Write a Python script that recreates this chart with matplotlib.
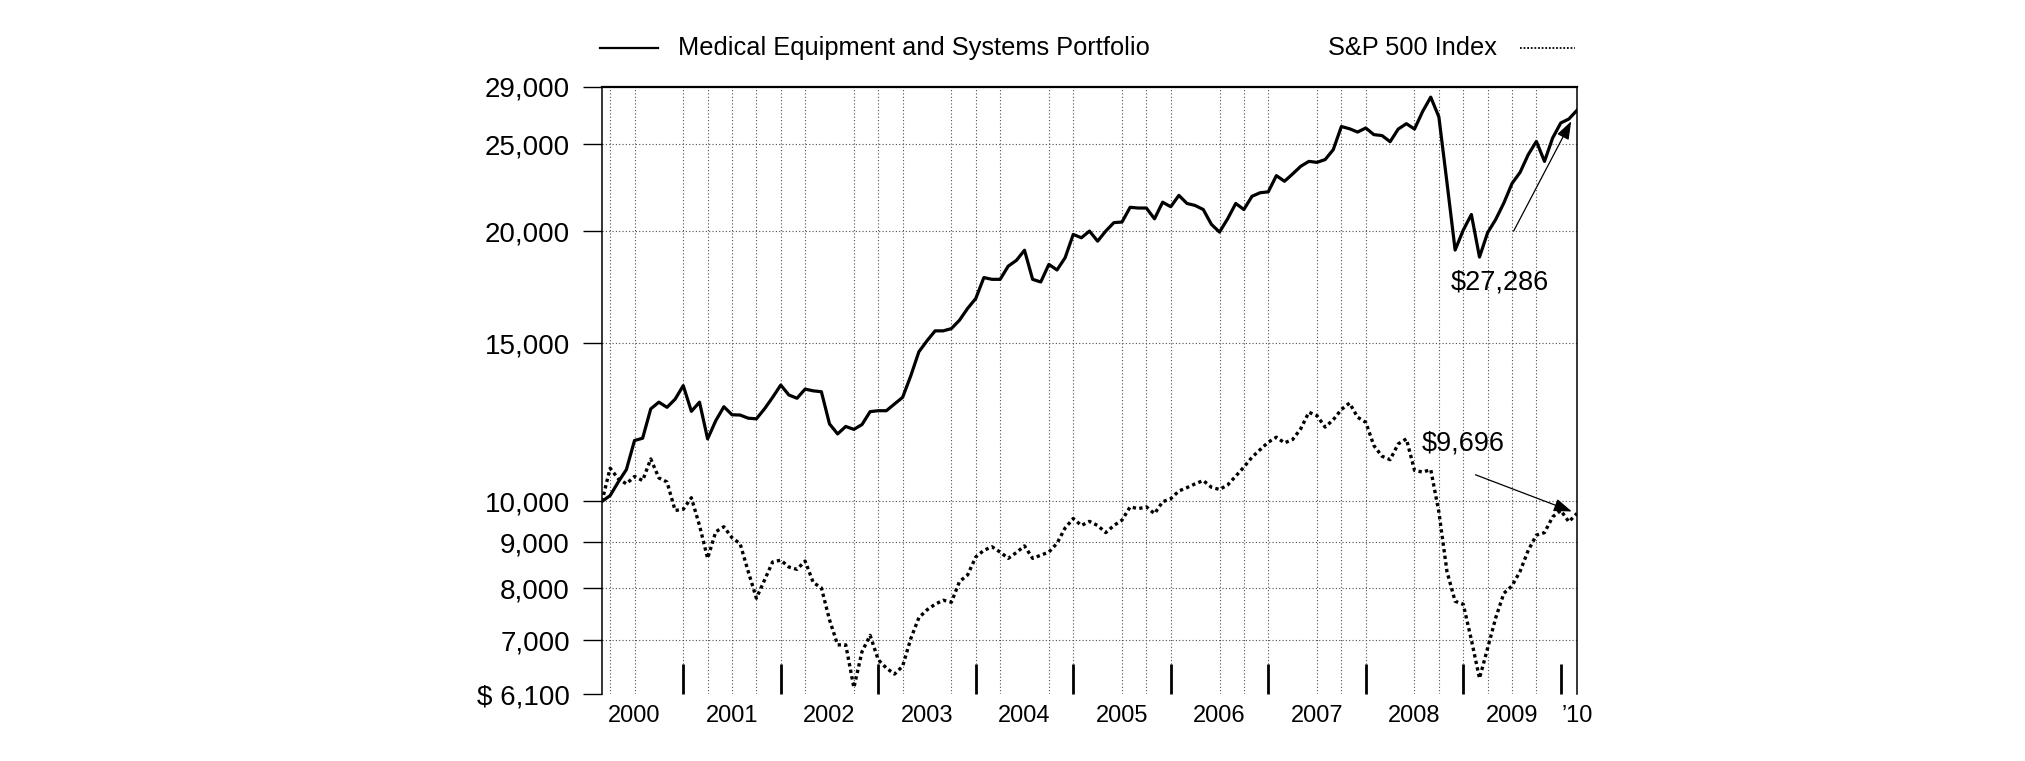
import numpy as np
import matplotlib
matplotlib.use("Agg")
import matplotlib.pyplot as plt
from matplotlib.lines import Line2D
from matplotlib.ticker import NullLocator

# Growth of $10,000, month ends from Feb 2000 to Feb 2010
portfolio = [
    10000, 10150, 10510, 10850, 11690, 11760, 12680, 12900, 12730, 13000,
    13460, 12600, 12900, 11740, 12300, 12750, 12490, 12480, 12380, 12360,
    12680, 13060, 13480, 13140, 13030, 13340, 13280, 13250, 12200, 11890,
    12120, 12030, 12180, 12590, 12620, 12620, 12840, 13060, 13800, 14680,
    15100, 15490, 15490, 15580, 15920, 16410, 16830, 17760, 17680, 17680,
    18290, 18560, 19050, 17680, 17560, 18370, 18110, 18690, 19840, 19670,
    20010, 19500, 20010, 20450, 20480, 21270, 21230, 21230, 20650, 21550,
    21300, 21930, 21480, 21370, 21150, 20360, 19960, 20650, 21480, 21150,
    21880, 22080, 22130, 23070, 22740, 23170, 23630, 23930, 23870, 24040,
    24660, 26170, 26020, 25800, 26070, 25630, 25570, 25170, 26000, 26360,
    26000, 27200, 28220, 26820, 22650, 19060, 20060, 20880, 18720, 19930,
    20620, 21510, 22610, 23270, 24350, 25190, 23930, 25410, 26410, 26680,
    27286]

sp500 = [
    10000, 10890, 10600, 10460, 10660, 10550, 11150, 10620, 10510, 9770,
    9800, 10095, 9400, 8640, 9250, 9370, 9110, 8970, 8350, 7800,
    8170, 8560, 8600, 8450, 8400, 8580, 8120, 8010, 7380, 6920,
    6920, 6200, 6800, 7090, 6660, 6520, 6420, 6550, 7030, 7420,
    7570, 7680, 7760, 7720, 8140, 8280, 8670, 8820, 8900, 8780,
    8640, 8770, 8920, 8640, 8710, 8780, 8980, 9340, 9570, 9400,
    9500, 9400, 9230, 9400, 9530, 9860, 9815, 9860, 9690, 9990,
    10070, 10270, 10360, 10460, 10550, 10370, 10310, 10430, 10670, 10920,
    11200, 11420, 11640, 11790, 11620, 11720, 12050, 12570, 12460, 12100,
    12330, 12660, 12870, 12410, 12250, 11540, 11230, 11130, 11590, 11740,
    10830, 10780, 10850, 9730, 8350, 7740, 7680, 7010, 6350, 6860,
    7420, 7900, 8050, 8360, 8820, 9170, 9230, 9610, 9770, 9490,
    9696]

year_labels = ['2000', '2001', '2002', '2003', '2004', '2005', '2006',
               '2007', '2008', '2009', '\u201910']
ytick_vals = [6100, 7000, 8000, 9000, 10000, 15000, 20000, 25000, 29000]
ytick_labels = ['$ 6,100', '7,000', '8,000', '9,000', '10,000', '15,000',
                '20,000', '25,000', '29,000']
hgrid_vals = [7000, 8000, 9000, 10000, 15000, 20000, 25000]
# month numbers (0 = Feb 2000) that carry a dotted vertical grid line
grid_months = [1, 4, 10, 13, 16, 19, 22, 25, 31, 34, 37, 43, 46, 49, 55, 58,
               64, 67, 70, 76, 79, 82, 88, 91, 94, 100, 103, 106, 109, 112, 115]

plt.rcParams['font.family'] = ['Liberation Sans', 'DejaVu Sans']

W, H = 2025, 761
fig = plt.figure(figsize=(W / 100, H / 100), dpi=100)
ax = fig.add_axes([602 / W, 1 - 694 / H, 975 / W, 607.5 / H])

months = np.arange(len(portfolio))

# grid
for m in grid_months:
    ax.axvline(m, color='0.3', lw=0.8, ls=(0, (1, 2)), zorder=0)
for v in hgrid_vals:
    ax.axhline(v, color='0.3', lw=0.8, ls=(0, (1, 2)), zorder=0)

ax.plot(months, portfolio, color='black', lw=2.3, zorder=3)
ax.plot(months, sp500, color='black', lw=2.4, ls=(0, (1, 1)),
        dash_capstyle='butt', zorder=3)

ax.set_yscale('log')
ax.set_ylim(6100, 29000)
ax.set_yticks(ytick_vals)
ax.set_yticklabels(ytick_labels)
ax.yaxis.set_minor_locator(NullLocator())
ax.tick_params(axis='y', which='both', direction='out', length=13.7, width=1,
               pad=9.4, labelsize=20)

ax.set_xlim(0, len(portfolio) - 1)
year_ends = list(range(10, len(portfolio), 12))
ax.set_xticks(year_ends)
ax.set_xticklabels([''] * len(year_ends))
label_pos = [4 + 12 * i for i in range(len(year_labels) - 1)] + [len(portfolio) - 1]
ax.set_xticks(label_pos, minor=True)
ax.set_xticklabels(year_labels, minor=True)
ax.tick_params(axis='x', which='major', direction='in', length=21.6, width=2.0)
ax.tick_params(axis='x', which='minor', length=0, pad=8, labelsize=17)

ax.spines['bottom'].set_visible(False)
ax.spines['top'].set_linewidth(1.6)
ax.spines['left'].set_linewidth(1.1)
ax.spines['right'].set_linewidth(1.1)

# end value call-outs
arrow = dict(arrowstyle='-|>,head_length=0.5,head_width=0.18', color='black',
             lw=0.9, mutation_scale=22, shrinkA=0)
ax.annotate('', xy=(months[-1], portfolio[-1]), xytext=(112.2, 20010),
            arrowprops=dict(arrow, shrinkB=9))
ax.text(104.4, 17230, '$27,286', fontsize=19.5, ha='left', va='baseline')
ax.annotate('', xy=(months[-1], sp500[-1]), xytext=(107.5, 10707),
            arrowprops=dict(arrow, shrinkB=4))
ax.text(100.9, 11395, '$9,696', fontsize=19.5, ha='left', va='baseline')

# legend across the top
ly = 1 - 48 / H
fig.add_artist(Line2D([600 / W, 658 / W], [ly, ly], color='black', lw=1.6))
fig.text(678 / W, ly, 'Medical Equipment and Systems Portfolio',
         fontsize=18.3, va='center')
fig.text(1328 / W, ly, 'S&P 500 Index', fontsize=18.3, va='center')
fig.add_artist(Line2D([1520 / W, 1575 / W], [ly, ly], color='black', lw=1.3,
                      ls=(0, (1, 1))))

fig.savefig('out.png', dpi=100)
